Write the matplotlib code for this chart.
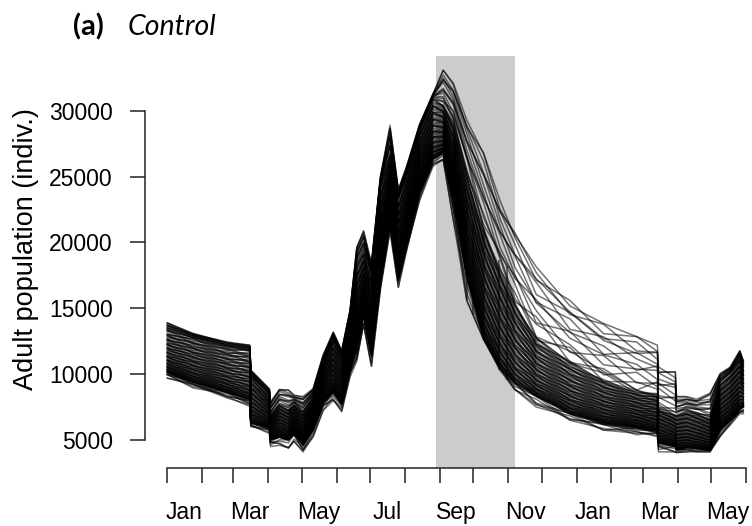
import numpy as np
import matplotlib
matplotlib.use('Agg')
import matplotlib.pyplot as plt
from matplotlib.ticker import FixedLocator, NullFormatter, FixedFormatter

# ---- data (day 0 = 1 Jan of year 1) ----
days = [0, 23, 53, 73.5, 74.5, 91, 92, 100, 108, 113, 121, 130, 139, 148, 155.5,
        163, 169, 175, 182, 190, 198.6, 206, 213.5, 225, 237, 246, 255, 267, 282,
        296.6, 310, 329, 359, 389, 418.5, 437, 438, 453, 454, 463, 472, 484, 493,
        502, 510.5, 513.6]
low_env = [9700, 8950, 8200, 7550, 6000, 5500, 4500, 4600, 4400, 4900, 4100, 5250,
           7250, 8000, 7150, 9800, 11000, 13800, 10600, 16400, 20900, 16600, 19400,
           23200, 25800, 26300, 21700, 15600, 12600, 10300, 8800, 7500, 6500, 5750,
           5400, 5250, 4100, 4100, 4050, 4100, 4100, 4100, 5250, 6150, 7000, 7000]
dense_low = [10100, 9350, 8600, 8000, 6300, 5900, 5000, 5200, 5000, 5500, 4600, 5800,
             7800, 8600, 7700, 10400, 11800, 14500, 11500, 17200, 21600, 17300, 20000,
             23800, 26300, 26800, 23200, 17400, 12850, 10550, 9300, 8300, 7000, 6250,
             5900, 5650, 4750, 4500, 4250, 4400, 4350, 4250, 5750, 6500, 7300, 7500]
dense_high = [13300, 12700, 12000, 11800, 9800, 8400, 6900, 7700, 7400, 7800, 7200, 8300,
              10800, 12600, 11300, 14300, 18400, 19400, 17500, 24300, 26800, 23300, 25200,
              28500, 31000, 30600, 29300, 25500, 21200, 18150, 15600, 12850, 11100, 9700,
              8800, 8550, 7500, 7000, 7000, 7300, 7100, 6750, 9300, 10050, 11050, 10300]
high_env = [13900, 13100, 12450, 12200, 10300, 8900, 7900, 8900, 8800, 8400, 8300, 8900,
            11450, 13200, 11800, 14900, 19700, 20900, 18400, 25000, 28900, 24000, 25800,
            29000, 31300, 33100, 32100, 29300, 26800, 23200, 20900, 18150, 15600, 13850,
            12850, 12200, 10550, 10200, 8300, 8300, 8100, 8550, 10050, 10550, 11800, 11050]

# sudden autumn drops of single runs (day, value before, value after)
drop_days = [267, 273, 282, 296, 303]
drop_from = [23200, 21500, 21000, 18700, 18200]
drop_to = [15600, 14500, 12800, 10300, 9550]

month_starts = [0, 31, 59, 90, 120, 151, 181, 212, 243, 273, 304, 334, 365, 396,
                424, 455, 485, 516]
label_days = [15, 74, 135, 196, 258, 319, 380, 439, 500]
label_text = ['Jan', 'Mar', 'May', 'Jul', 'Sep', 'Nov', 'Jan', 'Mar', 'May']
y_ticks = [5000, 10000, 15000, 20000, 25000, 30000]
shade_start, shade_end = 239.6, 310.0
n_low, n_dense, n_high = 5, 80, 14   # number of runs drawn in each part of the ensemble

plt.rcParams['font.family'] = ['Liberation Sans', 'DejaVu Sans']

fig = plt.figure(figsize=(7.52, 5.26), dpi=100)
ax = fig.add_axes([145 / 752, 58 / 526, 603 / 752, 412 / 526])

ax.axvspan(shade_start, shade_end, color='#cccccc', lw=0, zorder=0)

d = np.array(days, float)
lo = np.array(low_env, float)
dl = np.array(dense_low, float)
dh = np.array(dense_high, float)
hi = np.array(high_env, float)

q_lo, q_hi = 0.05, 0.86  # share of runs below / inside the dense core


def band_value(u):
    """Map a rank position u in [0, 1] to a value at every key day."""
    u = np.clip(u, 0, 1)
    out = np.empty_like(u)
    m1 = u < q_lo
    m3 = u > q_hi
    m2 = ~(m1 | m3)
    out[m1] = (lo + (u / q_lo) * (dl - lo))[m1]
    t2 = (u - q_lo) / (q_hi - q_lo)
    out[m2] = (dl + (t2 ** 1.35) * (dh - dl))[m2]
    t3 = (u - q_hi) / (1 - q_hi)
    out[m3] = (dh + (t3 ** 0.9) * (hi - dh))[m3]
    return out


base_u = np.concatenate([np.linspace(0, q_lo, n_low, endpoint=False),
                         np.linspace(q_lo, q_hi, n_dense, endpoint=False),
                         np.linspace(q_hi, 1, n_high)])
for i, u0 in enumerate(base_u):
    amp = 0.02 if u0 > q_hi else 0.035
    u = u0 + amp * np.sin(d / 11.0 + 2.4 * i)
    ax.plot(days, band_value(u), color='black', alpha=0.55, lw=1.1, zorder=2)

ax.vlines(drop_days, drop_to, drop_from, color='black', alpha=0.6, lw=1.1, zorder=2)

ax.set_xlim(-19.9, 517.8)
ax.set_ylim(2874, 34157)

for s in ['top', 'right']:
    ax.spines[s].set_visible(False)
ax.spines['left'].set_bounds(5000, 30000)
ax.spines['bottom'].set_bounds(0, 516)
for s in ['left', 'bottom']:
    ax.spines[s].set_linewidth(1.1)
    ax.spines[s].set_color('#222222')

ax.set_yticks(y_ticks)
ax.set_yticklabels([str(v) for v in y_ticks])
ax.tick_params(axis='y', length=10.8, width=1.1, color='#222222', pad=12.5,
               labelsize=16.5)
ax.xaxis.set_major_locator(FixedLocator(month_starts))
ax.xaxis.set_major_formatter(NullFormatter())
ax.xaxis.set_minor_locator(FixedLocator(label_days))
ax.xaxis.set_minor_formatter(FixedFormatter(label_text))
ax.tick_params(axis='x', which='major', length=10.8, width=1.1, color='#222222')
ax.tick_params(axis='x', which='minor', length=0, pad=24, labelsize=16.5)

fig.text(26 / 752, 1 - 249 / 526, 'Adult population (indiv.)', rotation=90,
         ha='center', va='center', fontsize=19.5)

fig.text(73 / 752, 1 - 35 / 526, '(a)', fontsize=21, fontweight='bold',
         family=['Lato', 'DejaVu Sans'], va='baseline', ha='left')
fig.text(128 / 752, 1 - 35 / 526, 'Control', fontsize=20.5, fontstyle='italic',
         family=['Lato', 'DejaVu Sans'], va='baseline', ha='left')

fig.savefig('out.png', dpi=100)
